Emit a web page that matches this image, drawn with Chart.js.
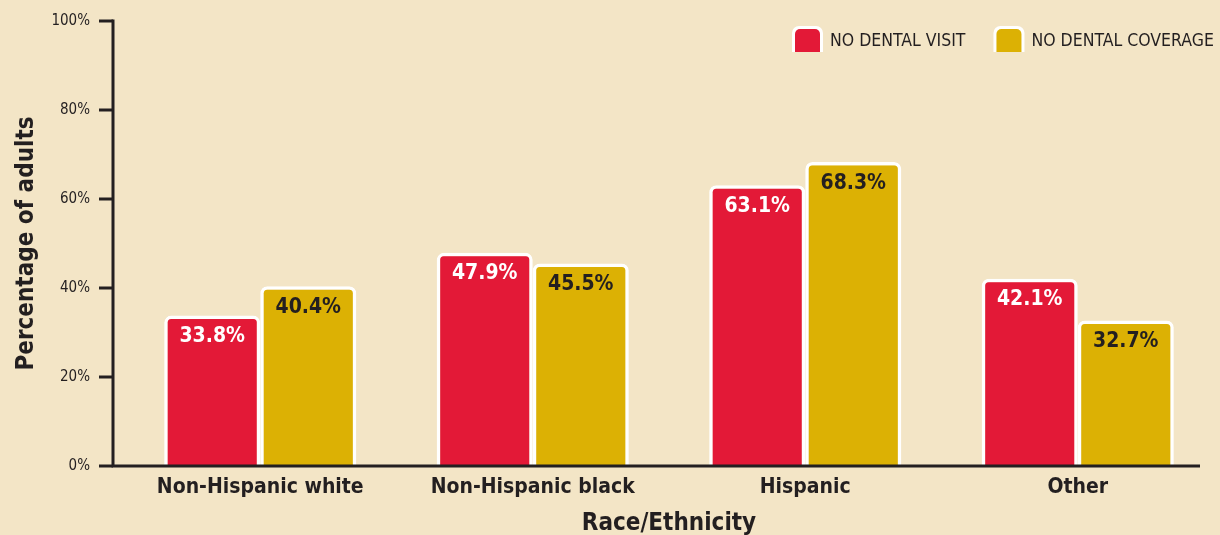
<!DOCTYPE html>
<html>
<head>
<meta charset="utf-8">
<script src="https://cdn.jsdelivr.net/npm/chart.js@4/dist/chart.umd.min.js"></script>
<style>
  html, body { margin: 0; padding: 0; background: #f3e5c6; }
  #wrap { width: 1220px; height: 535px; position: relative; }
</style>
</head>
<body>
<div id="wrap"><canvas id="myChart" width="1220" height="535"></canvas></div>
<script>
const categories = ['Non-Hispanic white', 'Non-Hispanic black', 'Hispanic', 'Other'];
const seriesNames = ['NO DENTAL VISIT', 'NO DENTAL COVERAGE'];
const noDentalVisit = [33.8, 47.9, 63.1, 42.1];
const noDentalCoverage = [40.4, 45.5, 68.3, 32.7];
const yTicks = [0, 20, 40, 60, 80, 100];

const RED = '#e31937';
const GOLD = '#dcb104';
const INK = '#231f20';
const FONT = '"Liberation Sans Narrow", "DejaVu Sans Condensed", "Roboto", sans-serif';

// axes lines + tick marks, value labels, legend
const decorPlugin = {
    id: 'decor',
    afterDatasetsDraw(chart) {
        const ctx = chart.ctx;
        const area = chart.chartArea;
        const y = chart.scales.y;
        const axisX = area.left - 11;
        ctx.save();
        ctx.strokeStyle = INK;
        ctx.lineWidth = 3;
        ctx.beginPath();
        ctx.moveTo(axisX, y.getPixelForValue(100) - 1.5);
        ctx.lineTo(axisX, y.getPixelForValue(0));
        ctx.lineTo(area.right - 14, y.getPixelForValue(0));
        ctx.stroke();
        yTicks.forEach(v => {
            const py = y.getPixelForValue(v);
            ctx.beginPath();
            ctx.moveTo(axisX - 14, py);
            ctx.lineTo(axisX, py);
            ctx.stroke();
        });

        // value labels
        ctx.font = 'bold 21px ' + FONT;
        ctx.textAlign = 'center';
        ctx.textBaseline = 'middle';
        chart.data.datasets.forEach((ds, i) => {
            chart.getDatasetMeta(i).data.forEach((bar, j) => {
                ctx.fillStyle = i === 0 ? '#ffffff' : INK;
                ctx.fillText(ds.data[j].toFixed(1) + '%', bar.x, bar.y + 21);
            });
        });

        // legend
        let lx = 792;
        const ly = 26;
        ctx.font = '17.5px ' + FONT;
        ctx.textAlign = 'left';
        chart.data.datasets.forEach((ds, i) => {
            ctx.fillStyle = '#ffffff';
            ctx.beginPath();
            ctx.roundRect(lx, ly, 31, 26, [7, 7, 0, 0]);
            ctx.fill();
            ctx.fillStyle = ds.backgroundColor;
            ctx.beginPath();
            ctx.roundRect(lx + 3, ly + 3, 25, 23, [5, 5, 0, 0]);
            ctx.fill();
            ctx.fillStyle = INK;
            ctx.fillText(ds.label, lx + 38, ly + 15);
            lx += 38 + ctx.measureText(ds.label).width + 28;
        });
        ctx.restore();
    }
};

new Chart(document.getElementById('myChart'), {
    type: 'bar',
    data: {
        labels: categories,
        datasets: [{
            label: seriesNames[0],
            data: noDentalVisit,
            backgroundColor: RED,
            borderColor: '#ffffff',
            borderWidth: { top: 3.5, left: 3.5, right: 3.5, bottom: 0 },
            borderRadius: { topLeft: 7, topRight: 7 },
            borderSkipped: 'bottom'
        }, {
            label: seriesNames[1],
            data: noDentalCoverage,
            backgroundColor: GOLD,
            borderColor: '#ffffff',
            borderWidth: { top: 3.5, left: 3.5, right: 3.5, bottom: 0 },
            borderRadius: { topLeft: 7, topRight: 7 },
            borderSkipped: 'bottom'
        }]
    },
    options: {
        responsive: false,
        animation: false,
        layout: { padding: { top: 21, right: 6, left: 0, bottom: 0 } },
        plugins: {
            legend: { display: false },
            tooltip: { enabled: false }
        },
        datasets: {
            bar: { categoryPercentage: 0.705, barPercentage: 1.0 }
        },
        scales: {
            x: {
                grid: { display: false },
                border: { display: false },
                ticks: {
                    color: INK,
                    padding: 1,
                    font: { family: FONT, size: 21, weight: 'bold' }
                },
                title: {
                    display: true,
                    text: 'Race/Ethnicity',
                    color: INK,
                    padding: { top: 3, bottom: -3 },
                    font: { family: FONT, size: 24, weight: 'bold' }
                },
                afterFit(scale) { scale.height = 69; }
            },
            y: {
                min: 0,
                max: 100,
                afterBuildTicks(scale) { scale.ticks = yTicks.map(v => ({ value: v })); },
                grid: { display: false },
                border: { display: false },
                ticks: {
                    color: INK,
                    padding: 26,
                    font: { family: FONT, size: 15 },
                    callback: v => v + '%'
                },
                title: {
                    display: true,
                    text: 'Percentage of adults',
                    color: INK,
                    padding: { top: 12, bottom: 0 },
                    font: { family: FONT, size: 24, weight: 'bold' }
                },
                afterFit(scale) {
                    scale.width = 124;
                    scale.paddingTop = 0;
                    scale.paddingBottom = 0;
                }
            }
        }
    },
    plugins: [decorPlugin]
});
</script>
</body>
</html>
